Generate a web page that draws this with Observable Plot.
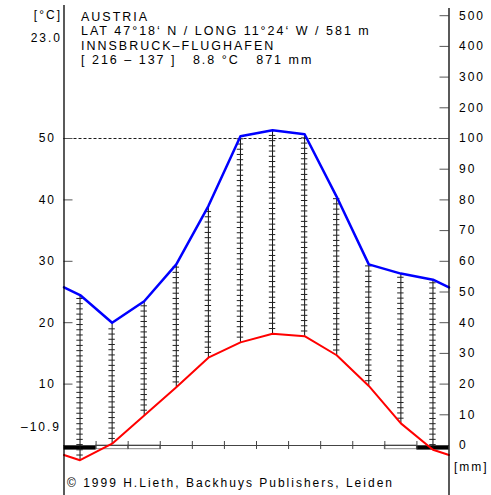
<!DOCTYPE html>
<html><head><meta charset="utf-8">
<script src="https://cdn.jsdelivr.net/npm/d3@7"></script>
<script src="https://cdn.jsdelivr.net/npm/@observablehq/plot@0.6"></script>
<style>
body{margin:0;background:#fff}
#chart svg{display:block}
#chart svg text{white-space:pre}
</style>
</head><body><div id="chart"></div>
<script>
// ---- data ----
const months = [1,2,3,4,5,6,7,8,9,10,11,12];
const temperature = [-2.4, 0.3, 4.9, 9.5, 14.3, 16.8, 18.2, 17.8, 14.7, 9.7, 3.6, -0.7];
const precipitation = [49, 40, 47, 59, 78, 107, 127, 114, 81, 59, 56, 54];
const frost = ["certain","probable","probable",null,null,null,null,null,null,null,"probable","certain"];
const tempTicks = [10, 20, 30, 40, 50];
const mmTicks = [0, 10, 20, 30, 40, 50, 60, 70, 80, 90, 100, 200, 300, 400, 500];
const headerLines = [
  "AUSTRIA",
  "LAT 47°18‘ N / LONG 11°24‘ W / 581 m",
  "INNSBRUCK–FLUGHAFEN",
  "[ 216 – 137 ]   8.8 °C   871 mm"
];
const tempUnit = "[°C]";
const precUnit = "[mm]";
const maxWarmest = "23.0";
const minColdest = "–10.9";
const credit = "© 1999 H.Lieth, Backhuys Publishers, Leiden";

// ---- derived ----
const mmToT = p => p <= 100 ? p / 2 : 50 + (p - 100) / 20;
const edgeT = (temperature[0] + temperature[11]) / 2;
const edgeP = (precipitation[0] + precipitation[11]) / 2;
const tempLine = [{m: 0.5, v: edgeT}, ...months.map((m, i) => ({m, v: temperature[i]})), {m: 12.5, v: edgeT}];
const precLine = [{m: 0.5, v: mmToT(edgeP)}, ...months.map((m, i) => ({m, v: mmToT(precipitation[i])})), {m: 12.5, v: mmToT(edgeP)}];
const hatch = months.map((m, i) => ({m, lo: temperature[i], hi: mmToT(precipitation[i])}));
const bars = [];
hatch.forEach(h => { for (let t = h.lo + 0.85; t < h.hi - 0.2; t += 0.85) bars.push({m: h.m, t}); });
const frostRows = months.map((m, i) => ({m, kind: frost[i]})).filter(d => d.kind);
const boundaries = d3.range(1.5, 12.5, 1);

const pxPerDeg = 6.14;
const yTop = 445 / pxPerDeg, yBot = -50 / pxPerDeg;

const plot = Plot.plot({
  width: 491, height: 495,
  marginLeft: 63.5, marginRight: 42.5, marginTop: 0, marginBottom: 0,
  x: {domain: [0.5, 12.5], axis: null},
  y: {domain: [yBot, yTop], axis: null},
  style: {fontFamily: "'Liberation Sans', Arial, sans-serif", fontSize: "12px", background: "#fff", color: "#000", letterSpacing: "2px", overflow: "visible"},
  marks: [
    // 100 mm dashed reference
    Plot.ruleY([mmToT(100)], {stroke: "#000", strokeWidth: 0.9, strokeDasharray: "3,2"}),
    // frost bars
    Plot.rect(frostRows.filter(d => d.kind === "probable"), {x1: d => d.m - 0.5, x2: d => d.m + 0.5, y1: -0.6, y2: 0, fill: "#fff", stroke: "#888", strokeWidth: 1}),
    Plot.rect(frostRows.filter(d => d.kind === "certain"), {x1: d => d.m - 0.5, x2: d => d.m + 0.5, y1: -0.75, y2: 0, fill: "#000"}),
    // baseline and month ticks
    Plot.ruleY([0], {stroke: "#444", strokeWidth: 1}),
    Plot.ruleX(boundaries, {x: d => d, y1: -0.65, y2: 0.65, stroke: "#444"}),
    // inward axis ticks
    Plot.tickY(tempTicks, {y: d => d, insetRight: 376, stroke: "#555"}),
    Plot.tickY(mmTicks.filter(d => d > 0), {y: d => mmToT(d), insetLeft: 376, stroke: "#555"}),
    // hatching
    Plot.ruleX(hatch, {x: "m", y1: "lo", y2: "hi", stroke: "#111", strokeWidth: 1}),
    Plot.ruleY(bars, {y: "t", x1: d => d.m - 0.1, x2: d => d.m + 0.1, stroke: "#222", strokeWidth: 1}),
    // climate curves
    Plot.line(tempLine, {x: "m", y: "v", stroke: "#ff0000", strokeWidth: 2}),
    Plot.line(precLine, {x: "m", y: "v", stroke: "#0000ff", strokeWidth: 2.5}),
    // axis lines
    Plot.ruleX([0.5], {y1: yBot, y2: yTop - 5 / pxPerDeg, stroke: "#000", strokeWidth: 1.3}),
    Plot.ruleX([12.5], {y1: yBot, y2: yTop - 8 / pxPerDeg, stroke: "#000", strokeWidth: 1.3}),
    // axis labels
    Plot.axisY(tempTicks, {anchor: "left", tickSize: 0, tickPadding: 8, label: null, fontSize: 12}),
    Plot.text(mmTicks, {y: d => mmToT(d), text: d => String(d), frameAnchor: "right", textAnchor: "start", dx: 10, fontSize: 12}),
    // units & extremes
    Plot.text([tempUnit], {frameAnchor: "top-left", textAnchor: "end", lineAnchor: "middle", dx: -2, dy: 15, fontSize: 12}),
    Plot.text([maxWarmest], {frameAnchor: "top-left", textAnchor: "end", lineAnchor: "middle", dx: -2, dy: 38, fontSize: 12}),
    Plot.text([minColdest], {frameAnchor: "bottom-left", textAnchor: "end", lineAnchor: "middle", dx: -3, dy: -68, fontSize: 12}),
    Plot.text([precUnit], {frameAnchor: "bottom-right", textAnchor: "start", lineAnchor: "middle", dx: 5, dy: -28, fontSize: 12}),
    // header and credit
    Plot.text([headerLines.join("\n")], {frameAnchor: "top-left", textAnchor: "start", lineAnchor: "top", lineHeight: 1.16, dx: 17, dy: 10, fontSize: 12.5, style: {letterSpacing: "2.1px"}}),
    Plot.text([credit], {frameAnchor: "bottom-left", textAnchor: "start", lineAnchor: "middle", dx: 3, dy: -12, fontSize: 12})
  ]
});
document.getElementById("chart").appendChild(plot);
</script>
</body></html>
